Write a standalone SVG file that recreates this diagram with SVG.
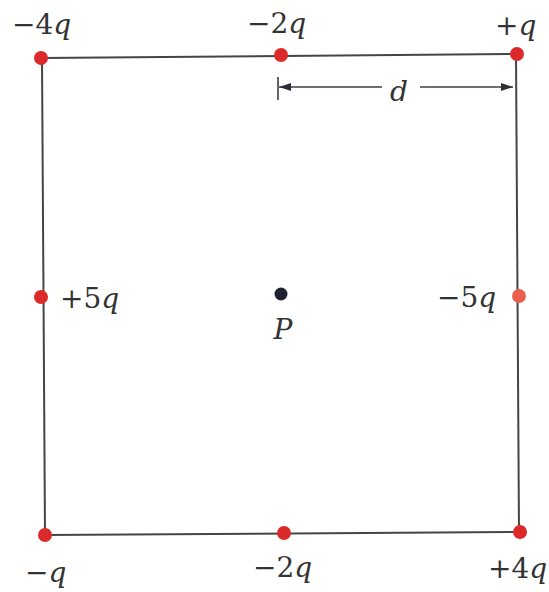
<svg xmlns="http://www.w3.org/2000/svg" width="549" height="592" viewBox="0 0 549 592">
<style>
.edge{stroke:#454545;stroke-width:2;fill:none}
.dim{stroke:#3a3f4a;stroke-width:1.6;fill:none}
.chg{fill:#dc2a2a}
.t{font-family:"DejaVu Serif",serif;font-size:28px;fill:#333333}
.i{font-style:italic}
</style>
<defs>
<marker id="ah" viewBox="0 0 12 8" refX="12" refY="4" markerWidth="12" markerHeight="8" markerUnits="userSpaceOnUse" orient="auto-start-reverse">
<path d="M0,0 L12,4 L0,8 Z" fill="#2a2f3a"/>
</marker>
</defs>
<rect width="549" height="592" fill="#ffffff"/>
<g id="connectors">
<line class="edge" x1="42" y1="58" x2="517" y2="54"/>
<line class="edge" x1="42" y1="58" x2="45" y2="535"/>
<line class="edge" x1="516" y1="54" x2="519" y2="532"/>
<line class="edge" x1="45" y1="535" x2="520" y2="532"/>
<line class="dim" x1="278" y1="77" x2="278" y2="100"/>
<line class="dim" x1="279" y1="87" x2="382" y2="87" marker-start="url(#ah)"/>
<line class="dim" x1="420" y1="87" x2="513" y2="87" marker-end="url(#ah)"/>
<text class="t i" x="399" y="101" text-anchor="middle">d</text>
</g>
<g id="q1"><circle class="chg" cx="41" cy="58" r="7"/><text class="t" x="12" y="34">−4<tspan class="i">q</tspan></text></g>
<g id="q2"><circle class="chg" cx="281" cy="55" r="7"/><text class="t" x="247" y="33">−2<tspan class="i">q</tspan></text></g>
<g id="q3"><circle class="chg" cx="517" cy="54" r="7"/><text class="t" x="495" y="35">+<tspan class="i">q</tspan></text></g>
<g id="q4"><circle class="chg" cx="41" cy="297" r="7"/><text class="t" x="60" y="308">+5<tspan class="i">q</tspan></text></g>
<g id="q5"><circle cx="519" cy="296" r="7" fill="#e8604e"/><text class="t" x="437" y="307">−5<tspan class="i">q</tspan></text></g>
<g id="P"><circle cx="281" cy="294" r="6.5" fill="#1e2230"/><text class="t i" x="283" y="339" text-anchor="middle">P</text></g>
<g id="q6"><circle class="chg" cx="45" cy="535" r="7"/><text class="t" x="25" y="582">−<tspan class="i">q</tspan></text></g>
<g id="q7"><circle class="chg" cx="284" cy="533" r="7"/><text class="t" x="253" y="577">−2<tspan class="i">q</tspan></text></g>
<g id="q8"><circle class="chg" cx="520" cy="532" r="7"/><text class="t" x="488" y="578">+4<tspan class="i">q</tspan></text></g>
</svg>
